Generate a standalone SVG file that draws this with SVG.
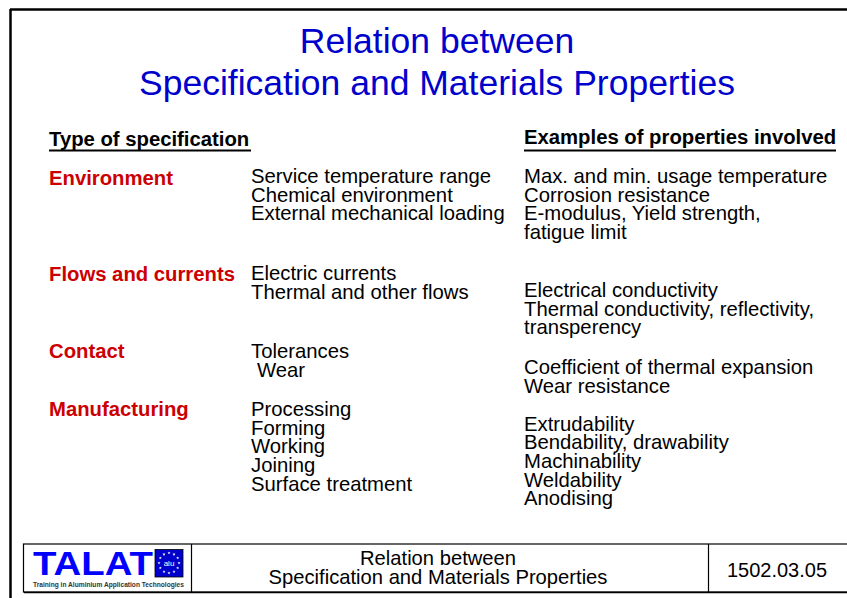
<svg xmlns="http://www.w3.org/2000/svg" xmlns:xlink="http://www.w3.org/1999/xlink" width="847" height="598" viewBox="0 0 847 598">
<style>
.t{font-family:"Liberation Sans",Arial,sans-serif;fill:#000;}
.title{font-family:"Liberation Sans",Arial,sans-serif;font-size:35.5px;fill:#0000cc;text-anchor:middle;}
.hd{font-family:"Liberation Sans",Arial,sans-serif;font-size:20.3px;font-weight:bold;fill:#000;}
.cat{font-family:"Liberation Sans",Arial,sans-serif;font-size:20.3px;font-weight:bold;fill:#cc0000;}
.b{font-family:"Liberation Sans",Arial,sans-serif;font-size:20.3px;fill:#000;}
.ft{font-family:"Liberation Sans",Arial,sans-serif;font-size:20.2px;fill:#000;text-anchor:middle;}
.ln{stroke:#000;fill:none;}
</style>
<defs>
<polygon id="star" points="0,-1.6 0.45,-0.5 1.55,-0.5 0.65,0.2 1,1.3 0,0.6 -1,1.3 -0.65,0.2 -1.55,-0.5 -0.45,-0.5" fill="#fff"/>
</defs>
<rect width="847" height="598" fill="#fff"/>
<g id="frame">
<line class="ln" x1="10" y1="9.5" x2="847" y2="9.5" stroke-width="2.5"/>
<line class="ln" x1="10.5" y1="9" x2="10.5" y2="598" stroke-width="2.5"/>
</g>
<g id="title">
<text class="title" x="437" y="53">Relation between</text>
<text class="title" x="437" y="95">Specification and Materials Properties</text>
</g>
<g id="headers">
<text class="hd" x="49" y="146">Type of specification</text>
<line class="ln" x1="49" y1="150.5" x2="251" y2="150.5" stroke-width="2"/>
<text class="hd" x="524" y="144">Examples of properties involved</text>
<line class="ln" x1="524" y1="150.5" x2="836" y2="150.5" stroke-width="2"/>
</g>
<g id="environment">
<text class="cat" x="49" y="185">Environment</text>
<text class="b" x="251" y="183">Service temperature range</text>
<text class="b" x="251" y="201.5">Chemical environment</text>
<text class="b" x="251" y="220">External mechanical loading</text>
<text class="b" x="524" y="183">Max. and min. usage temperature</text>
<text class="b" x="524" y="201.5">Corrosion resistance</text>
<text class="b" x="524" y="220">E-modulus, Yield strength,</text>
<text class="b" x="524" y="238.5">fatigue limit</text>
</g>
<g id="flows">
<text class="cat" x="49" y="281">Flows and currents</text>
<text class="b" x="251" y="280">Electric currents</text>
<text class="b" x="251" y="298.5">Thermal and other flows</text>
<text class="b" x="524" y="297">Electrical conductivity</text>
<text class="b" x="524" y="315.5">Thermal conductivity, reflectivity,</text>
<text class="b" x="524" y="334">transperency</text>
</g>
<g id="contact">
<text class="cat" x="49" y="358">Contact</text>
<text class="b" x="251" y="358">Tolerances</text>
<text class="b" x="257" y="376.5">Wear</text>
<text class="b" x="524" y="374">Coefficient of thermal expansion</text>
<text class="b" x="524" y="392.5">Wear resistance</text>
</g>
<g id="manufacturing">
<text class="cat" x="49" y="416">Manufacturing</text>
<text class="b" x="251" y="416">Processing</text>
<text class="b" x="251" y="434.7">Forming</text>
<text class="b" x="251" y="453.4">Working</text>
<text class="b" x="251" y="472.1">Joining</text>
<text class="b" x="251" y="490.8">Surface treatment</text>
<text class="b" x="524" y="430.5">Extrudability</text>
<text class="b" x="524" y="449.2">Bendability, drawability</text>
<text class="b" x="524" y="467.9">Machinability</text>
<text class="b" x="524" y="486.6">Weldability</text>
<text class="b" x="524" y="505.3">Anodising</text>
</g>
<g id="footer">
<rect x="23.5" y="544" width="840" height="48" fill="none" stroke="#000" stroke-width="1.2"/>
<line class="ln" x1="24" y1="592.5" x2="847" y2="592.5" stroke="#777" stroke-width="1.5"/>
<line class="ln" x1="191.5" y1="544" x2="191.5" y2="592" stroke-width="1.2"/>
<line class="ln" x1="708.5" y1="544" x2="708.5" y2="592" stroke-width="1.2"/>
<text class="ft" x="438" y="565">Relation between</text>
<text class="ft" x="438" y="584">Specification and Materials Properties</text>
<text class="t" x="777" y="577" font-size="20" text-anchor="middle">1502.03.05</text>
</g>
<g id="logo">
<text x="33" y="575" font-family="'Liberation Sans',Arial,sans-serif" font-size="33" font-weight="bold" fill="#0000ff" textLength="120" lengthAdjust="spacingAndGlyphs">TALAT</text>
<rect x="155" y="549.5" width="28" height="27.5" fill="#0000cc" stroke="#000" stroke-width="0.8"/>
<g transform="translate(169,563)">
<use xlink:href="#star" x="0" y="-10"/>
<use xlink:href="#star" x="5" y="-8.66"/>
<use xlink:href="#star" x="8.66" y="-5"/>
<use xlink:href="#star" x="10" y="0"/>
<use xlink:href="#star" x="8.66" y="5"/>
<use xlink:href="#star" x="5" y="8.66"/>
<use xlink:href="#star" x="0" y="10"/>
<use xlink:href="#star" x="-5" y="8.66"/>
<use xlink:href="#star" x="-8.66" y="5"/>
<use xlink:href="#star" x="-10" y="0"/>
<use xlink:href="#star" x="-8.66" y="-5"/>
<use xlink:href="#star" x="-5" y="-8.66"/>
</g>
<text x="169" y="566" font-family="'Liberation Sans',Arial,sans-serif" font-size="8" fill="#fff" text-anchor="middle">alu</text>
<text x="33" y="587" font-family="'Liberation Sans',Arial,sans-serif" font-size="6.5" font-weight="bold" fill="#333" textLength="151" lengthAdjust="spacingAndGlyphs">Training in Aluminium Application Technologies</text>
</g>
</svg>
